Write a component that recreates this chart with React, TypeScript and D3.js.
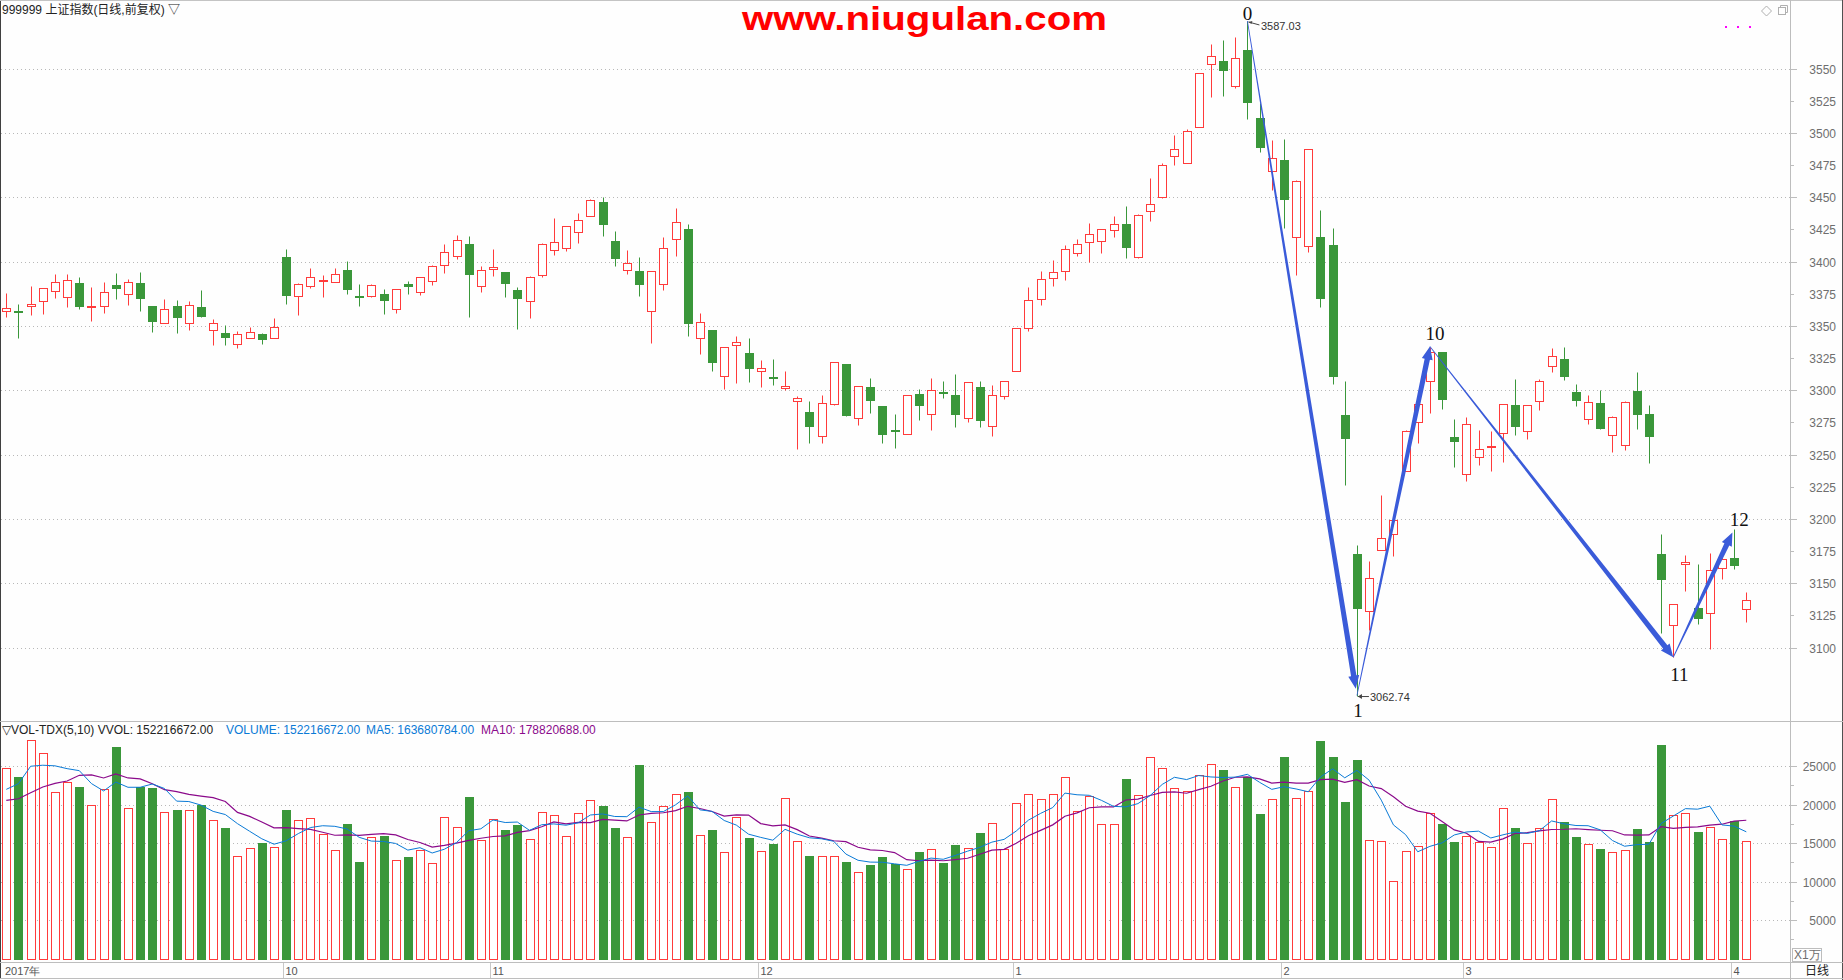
import React from 'react';
import * as d3 from 'd3';

// ---------- data ----------
const opens = [3361.4,3361.7,3365.8,3369.2,3376.9,3372.3,3383.2,3364.5,3365.3,3381.6,3374.6,3383.2,3365.5,3352.1,3365.5,3352.1,3364.8,3346.6,3344.6,3335.8,3340.4,3343.8,3340.4,3403.6,3373.1,3381.3,3385.2,3383.9,3393.3,3373.1,3373.1,3374.6,3363.0,3382.6,3376.2,3384.7,3397.2,3404.1,3413.7,3380.8,3394.0,3391.7,3377.7,3369.2,3389.4,3408.8,3410.4,3422.8,3435.2,3446.1,3416.1,3393.3,3392.5,3361.4,3382.4,3417.4,3425.1,3340.4,3346.6,3310.9,3335.0,3329.0,3314.8,3310.5,3301.6,3291.7,3282.9,3264.2,3289.6,3320.5,3278.2,3302.3,3287.6,3268.8,3266.3,3297.2,3281.3,3298.3,3296.5,3278.1,3302.8,3272.6,3295.8,3314.6,3348.3,3371.2,3387.2,3392.4,3406.6,3414.9,3416.0,3424.3,3429.5,3403.8,3439.2,3450.3,3481.9,3476.7,3504.9,3553.8,3555.6,3536.1,3564.2,3511.8,3470.8,3479.2,3419.4,3411.8,3418.8,3413.2,3281.1,3173.1,3128.2,3175.9,3188.3,3237.0,3275.4,3307.3,3329.5,3263.7,3235.0,3248.2,3256.2,3266.8,3288.6,3268.4,3291.7,3318.9,3324.4,3298.7,3277.7,3290.2,3265.3,3257.5,3299.5,3281.6,3173.1,3117.6,3165.0,3130.8,3126.9,3161.9,3169.7,3130.0];
const highs = [3375.4,3367.1,3381.1,3379.8,3390.4,3390.4,3388.1,3380.3,3384.2,3391.2,3386.5,3392.0,3365.5,3371.0,3370.2,3369.4,3378.0,3355.4,3350.8,3345.9,3349.2,3344.6,3356.2,3409.8,3383.2,3395.1,3389.6,3394.8,3400.5,3382.4,3382.4,3378.5,3378.5,3385.0,3387.8,3397.2,3413.7,3420.7,3419.9,3396.6,3409.8,3391.7,3380.3,3388.6,3414.2,3433.9,3427.5,3437.8,3448.4,3450.5,3423.8,3409.1,3403.6,3392.5,3418.9,3441.7,3429.3,3360.1,3346.6,3333.4,3342.2,3340.4,3323.6,3324.4,3315.0,3295.6,3291.7,3296.4,3321.8,3320.5,3303.1,3309.3,3287.6,3281.3,3296.5,3300.7,3309.4,3307.3,3312.8,3306.6,3307.3,3303.8,3307.3,3348.6,3380.2,3392.7,3401.4,3412.8,3417.4,3429.9,3425.7,3435.4,3443.1,3437.2,3464.9,3476.4,3498.3,3503.1,3546.9,3568.8,3572.6,3574.7,3587.03,3523.6,3494.8,3495.5,3463.2,3487.8,3440.3,3426.0,3307.5,3180.1,3167.6,3218.9,3203.4,3269.4,3289.4,3334.0,3329.5,3278.0,3279.5,3269.4,3268.7,3289.4,3309.1,3288.6,3309.1,3333.2,3333.9,3304.9,3296.4,3300.3,3280.1,3291.7,3314.5,3288.6,3188.6,3134.2,3172.0,3165.3,3173.6,3176.7,3192.2,3143.5];
const lows = [3357.3,3340.9,3358.5,3359.3,3372.0,3365.0,3363.5,3354.1,3360.4,3371.2,3366.6,3361.9,3345.6,3352.1,3344.8,3347.2,3357.3,3335.5,3335.5,3333.2,3340.4,3336.3,3340.4,3367.4,3358.8,3379.8,3372.8,3383.9,3375.1,3365.8,3372.3,3359.6,3360.4,3375.1,3374.4,3382.1,3391.5,3402.3,3357.3,3376.7,3389.1,3372.8,3347.9,3356.5,3388.3,3405.4,3408.5,3414.8,3435.2,3420.0,3396.9,3390.7,3373.6,3337.0,3378.2,3404.7,3342.5,3328.5,3315.3,3301.3,3306.0,3306.7,3302.8,3304.4,3300.3,3254.7,3259.3,3259.3,3288.9,3280.1,3273.1,3282.6,3259.3,3255.2,3266.3,3277.1,3268.8,3294.1,3271.6,3275.7,3271.6,3264.6,3293.4,3314.6,3346.2,3366.0,3381.3,3385.8,3404.5,3400.0,3407.0,3419.4,3402.8,3402.8,3431.6,3449.7,3475.3,3476.7,3504.9,3527.8,3528.8,3534.7,3511.1,3485.4,3455.9,3426.0,3389.9,3407.3,3364.9,3304.9,3226.2,3062.74,3114.0,3175.9,3171.5,3237.0,3259.1,3282.1,3285.5,3240.2,3229.3,3242.2,3237.0,3244.0,3265.3,3261.9,3284.7,3314.2,3307.8,3287.6,3273.8,3269.7,3252.1,3253.4,3269.7,3243.3,3111.4,3092.5,3143.8,3118.1,3099.0,3153.1,3160.9,3119.7];
const closes = [3363.7,3361.2,3367.1,3379.3,3383.9,3385.5,3365.8,3365.5,3376.2,3379.8,3383.9,3372.0,3354.1,3363.0,3357.3,3366.1,3358.0,3352.1,3341.7,3343.5,3345.1,3340.2,3349.0,3374.4,3382.4,3387.8,3385.8,3390.2,3379.0,3372.5,3381.6,3370.5,3378.5,3381.3,3387.8,3396.4,3407.3,3416.6,3390.7,3393.3,3395.6,3383.7,3372.0,3387.8,3413.5,3415.0,3427.5,3432.1,3447.7,3429.5,3403.1,3398.7,3382.9,3392.5,3410.4,3430.6,3352.6,3353.4,3322.3,3333.4,3337.3,3317.6,3317.1,3309.9,3303.1,3293.8,3272.5,3289.9,3321.8,3280.8,3303.1,3292.7,3266.3,3268.2,3296.5,3288.5,3300.3,3297.6,3281.6,3306.6,3277.1,3296.5,3307.3,3348.6,3369.8,3386.1,3392.0,3409.7,3413.9,3421.5,3425.7,3429.5,3411.5,3436.5,3445.1,3475.3,3487.8,3501.7,3546.9,3560.1,3549.3,3558.3,3524.3,3488.9,3480.9,3448.3,3462.5,3487.8,3371.9,3310.8,3262.7,3130.6,3154.1,3185.2,3199.5,3268.4,3289.4,3330.1,3293.3,3260.6,3273.8,3254.4,3257.0,3289.4,3272.0,3288.6,3307.3,3326.7,3310.9,3292.5,3290.9,3270.5,3279.3,3290.9,3281.3,3264.2,3153.1,3134.2,3166.3,3122.8,3160.4,3168.9,3164.0,3137.0];
const volumes = [24795,23534,28362,26753,21663,22968,22229,19967,21968,27449,19575,22229,22098,19053,19227,19314,19923,18009,17009,13311,14355,15051,14486,19227,18009,18270,16226,14094,17531,12572,15834,15965,12789,13224,14138,12398,18401,17096,20924,15399,18140,16748,17400,15530,19053,18662,15921,18923,20619,19749,17009,15791,25100,17748,19749,21402,21576,16052,16748,13833,18401,15704,13964,14921,20880,15269,13355,13311,13311,12572,11223,12180,13224,12267,11615,13877,14225,12441,14790,14355,16356,17618,14225,20228,21402,20750,21402,23621,19140,21054,17487,17487,23273,21272,26231,24795,22098,21794,23882,25317,24447,22316,23621,18705,20750,26144,20880,21794,28232,26144,20271,25752,15399,15269,10049,13964,14616,18923,17531,15182,15921,15138,14486,19575,17009,15008,16965,20750,17792,15834,14877,14268,13833,14094,16835,15182,27710,18662,18923,16487,17139,15530,17879,15222];
// MA values of the first bars, whose windows begin before the visible range
const ma5Head = [21968, 22707, 24969, 25100];
const ma10Head = [20532, 20750, 21533, 22272, 22751, 23055, 23795, 23838, 23447];

const priceTicks = d3.range(3100, 3551, 25);
const priceGrid = d3.range(3100, 3551, 50);
const volTicks = [5000, 10000, 15000, 20000, 25000];
const volMinor = [2500, 7500, 12500, 17500, 22500];
const monthLabels = ['2017年', '10', '11', '12', '1', '2', '3', '4'];
const monthStartIdx = [0, 23, 40, 62, 83, 105, 120, 142];

const waveLabels = ['0', '1', '10', '11', '12'];
const waveIdx = [102, 111, 117, 137, 142];
const wavePrice = [3587.03, 3062.74, 3334.0, 3092.5, 3192.2];

const W = 1843, H = 980;
const RED = '#ff3b3b';
const GREEN = '#3a973a';
const BLUE = '#3a5bd9';

const x = d3.scaleLinear().domain([0, 143]).range([6.3, 1746.3]);
const yP = d3.scaleLinear().domain([3100, 3550]).range([647.6, 68.6]);
const yV = d3.scaleLinear().domain([0, 25000]).range([958.5, 766]);

const ma = (n: number, head: number[]) =>
  volumes.map((_, i) => (i < head.length ? head[i] : d3.mean(volumes.slice(i - n + 1, i + 1)) as number));
const ma5 = ma(5, ma5Head);
const ma10 = ma(10, ma10Head);

function arrowPath(x1: number, y1: number, x2: number, y2: number, shorten: number) {
  const L = Math.hypot(x2 - x1, y2 - y1);
  const ux = (x2 - x1) / L, uy = (y2 - y1) / L;
  const px = -uy, py = ux;
  const tx = x2 - ux * shorten, ty = y2 - uy * shorten;
  const hl = 13, hw = 5.5, w0 = 0.4, w1 = 2.7;
  const nx = tx - ux * hl, ny = ty - uy * hl;
  const pts = [
    [x1 + px * w0, y1 + py * w0],
    [nx + px * w1, ny + py * w1],
    [nx + px * hw, ny + py * hw],
    [tx, ty],
    [nx - px * hw, ny - py * hw],
    [nx - px * w1, ny - py * w1],
    [x1 - px * w0, y1 - py * w0],
  ];
  return 'M' + pts.map(p => p[0].toFixed(2) + ',' + p[1].toFixed(2)).join('L') + 'Z';
}

export default function App() {
  const cx = (i: number) => Math.round(x(i)) + 0.5;
  const ry = (v: number) => Math.round(yP(v)) + 0.5;

  const candles = opens.map((o, i) => {
    const c = closes[i], h = highs[i], l = lows[i];
    const X = cx(i);
    const up = c >= o;
    const yO = ry(o), yC = ry(c), yH = ry(h), yL = ry(l);
    const top = Math.min(yO, yC), bot = Math.max(yO, yC);
    if (up) {
      return (
        <g key={i}>
          {yH < top && <line x1={X} x2={X} y1={yH} y2={top} stroke={RED} />}
          {yL > bot && <line x1={X} x2={X} y1={bot} y2={yL} stroke={RED} />}
          {bot - top < 1
            ? <line x1={X - 4.5} x2={X + 4.5} y1={top} y2={top} stroke={RED} strokeWidth={2} />
            : <rect x={X - 4} y={top} width={8} height={bot - top} fill="#fff" stroke={RED} />}
        </g>
      );
    }
    return (
      <g key={i}>
        <line x1={X} x2={X} y1={yH} y2={yL} stroke={GREEN} />
        {bot - top < 1
          ? <line x1={X - 4.5} x2={X + 4.5} y1={top} y2={top} stroke={GREEN} />
          : <rect x={X - 4.5} y={top - 0.5} width={9} height={bot - top + 1} fill={GREEN} />}
      </g>
    );
  });

  const vbars = volumes.map((v, i) => {
    const X = cx(i);
    const up = closes[i] >= opens[i];
    const t = Math.round(yV(v)) + 0.5;
    const b = Math.round(yV(0)) + 0.5;
    return up
      ? <rect key={i} x={X - 4} y={t} width={8} height={b - t} fill="#fff" stroke={RED} />
      : <rect key={i} x={X - 4.5} y={t - 0.5} width={9} height={b - t + 1} fill={GREEN} />;
  });

  const line = d3.line<number>().x((_, i) => x(i)).y(d => yV(d));

  const wp = waveIdx.map((k, j) => [x(k), yP(wavePrice[j])]);
  const shorten = [0, 7, 0, 0, 4];

  const gridDots = '1 3';
  const axisFont = '"Liberation Sans", Arial, sans-serif';

  return (
    <svg width={W} height={H} style={{ position: 'absolute', left: 0, top: 0, display: 'block', background: '#fefefe' }}
      fontFamily={axisFont}>
      <rect x={0} y={0} width={W} height={H} fill="#fefefe" />
      {/* frame */}
      <line x1={0} x2={W} y1={0.5} y2={0.5} stroke="#c4c4c4" />
      <line x1={0.5} x2={0.5} y1={1} y2={979} stroke="#404040" />
      <line x1={1842.5} x2={1842.5} y1={0} y2={980} stroke="#505050" />
      <line x1={1790.5} x2={1790.5} y1={0} y2={980} stroke="#bdbdbd" />
      <line x1={0} x2={1843} y1={721.5} y2={721.5} stroke="#bdbdbd" />
      <line x1={0} x2={1843} y1={962.5} y2={962.5} stroke="#bdbdbd" />
      <line x1={0} x2={1843} y1={978.5} y2={978.5} stroke="#bdbdbd" />

      {/* price grid */}
      {priceGrid.map(p => (
        <line key={p} x1={1} x2={1790} y1={Math.round(yP(p)) + 0.5} y2={Math.round(yP(p)) + 0.5}
          stroke="#b8b8b8" strokeDasharray={gridDots} />
      ))}
      {priceTicks.map(p => {
        const yy = Math.round(yP(p)) + 0.5;
        const major = p % 50 === 0;
        return (
          <g key={p}>
            <line x1={1791} x2={major ? 1797 : 1794} y1={yy} y2={yy} stroke="#bdbdbd" />
            <text x={1836} y={yy + 4} textAnchor="end" fontSize={12} fill="#6e6e6e">{p}</text>
          </g>
        );
      })}

      {/* volume grid */}
      {volTicks.map(v => {
        const yy = Math.round(yV(v)) + 0.5;
        return (
          <g key={v}>
            <line x1={1} x2={1790} y1={yy} y2={yy} stroke="#b8b8b8" strokeDasharray={gridDots} />
            <line x1={1791} x2={1797} y1={yy} y2={yy} stroke="#bdbdbd" />
            <text x={1836} y={yy + 4} textAnchor="end" fontSize={12} fill="#6e6e6e">{v}</text>
          </g>
        );
      })}
      {volMinor.map(v => {
        const yy = Math.round(yV(v)) + 0.5;
        return <line key={v} x1={1791} x2={1794} y1={yy} y2={yy} stroke="#bdbdbd" />;
      })}
      <rect x={1792.5} y={948.5} width={29} height={13} fill="#fefefe" stroke="#bdbdbd" />
      <text x={1794} y={959} fontSize={12} fill="#6e6e6e">X1万</text>

      {/* candles */}
      {candles}

      {/* volume bars and MAs */}
      {vbars}
      <path d={line(ma10) as string} fill="none" stroke="#8b0a8b" strokeWidth={1.2} />
      <path d={line(ma5) as string} fill="none" stroke="#0a7ad6" strokeWidth={1} />

      {/* wave arrows */}
      {wp.slice(0, -1).map((p, j) => (
        <path key={j} d={arrowPath(p[0], p[1], wp[j + 1][0], wp[j + 1][1], shorten[j + 1])} fill={BLUE} />
      ))}
      <g fontFamily='"Liberation Serif", "DejaVu Serif", serif' fontSize={19} fill="#111" textAnchor="middle">
        <text x={wp[0][0]} y={20}>{waveLabels[0]}</text>
        <text x={wp[1][0] + 1} y={717}>{waveLabels[1]}</text>
        <text x={wp[2][0] + 5} y={340}>{waveLabels[2]}</text>
        <text x={wp[3][0] + 6} y={681}>{waveLabels[3]}</text>
        <text x={wp[4][0] + 5} y={526}>{waveLabels[4]}</text>
      </g>
      {/* extreme price notes */}
      <line x1={wp[0][0] + 1} y1={wp[0][1] + 1} x2={wp[0][0] + 12} y2={wp[0][1] + 4} stroke="#444" />
      <path d={`M${wp[0][0] + 1},${wp[0][1] + 1}l4,-1l-1,3z`} fill="#444" />
      <text x={1261} y={30} fontSize={11} fill="#333">{wavePrice[0].toFixed(2)}</text>
      <line x1={wp[1][0] + 1} y1={wp[1][1] + 1} x2={wp[1][0] + 12} y2={wp[1][1] + 1} stroke="#444" />
      <path d={`M${wp[1][0] + 1},${wp[1][1] + 1}l4,-2.5l0,5z`} fill="#444" />
      <text x={1370} y={701} fontSize={11} fill="#333">{wavePrice[1].toFixed(2)}</text>

      {/* headers */}
      <text x={2} y={14} fontSize={12} fill="#222" fontFamily='"Liberation Sans", "Noto Sans CJK SC", sans-serif'>999999 上证指数(日线,前复权) ▽</text>
      <text x={742} y={30} fontSize={33} fontWeight="bold" fill="#ff0000" textLength={365} lengthAdjust="spacingAndGlyphs"
        fontFamily='"Liberation Sans", Arial, sans-serif'>www.niugulan.com</text>
      <g fill="#ff00ff">
        <rect x={1725} y={26} width={2} height={2} />
        <rect x={1737} y={26} width={2} height={2} />
        <rect x={1749} y={26} width={2} height={2} />
      </g>
      <path d="M1766.5,6 L1771.5,11 L1766.5,16 L1761.5,11 Z" fill="none" stroke="#b0b0b0" />
      <rect x={1778.5} y={7.5} width={7} height={7} fill="none" stroke="#b0b0b0" />
      <path d="M1780.5,7.5 V5.5 H1787.5 V12.5 H1785.5" fill="none" stroke="#b0b0b0" />

      <g fontSize={12}>
        <text x={2} y={734}><tspan fill="#222">▽VOL-TDX(5,10) VVOL: 152216672.00</tspan></text>
        <text x={226} y={734} fill="#0a7ad6">VOLUME: 152216672.00</text>
        <text x={366} y={734} fill="#0a7ad6">MA5: 163680784.00</text>
        <text x={481} y={734} fill="#8b0a8b">MA10: 178820688.00</text>
      </g>

      {/* date axis */}
      {monthStartIdx.map((k, j) => {
        const X = Math.round(x(k)) - 2.5;
        return (
          <g key={j}>
            {j > 0 && <line x1={X} x2={X} y1={963} y2={978} stroke="#c8c8c8" />}
            <text x={j === 0 ? 5 : X + 2} y={975} fontSize={11} fill="#555">{monthLabels[j]}</text>
          </g>
        );
      })}
      <text x={1805} y={975} fontSize={12} fill="#222" fontFamily='"Noto Sans CJK SC", sans-serif'>日线</text>
    </svg>
  );
}
